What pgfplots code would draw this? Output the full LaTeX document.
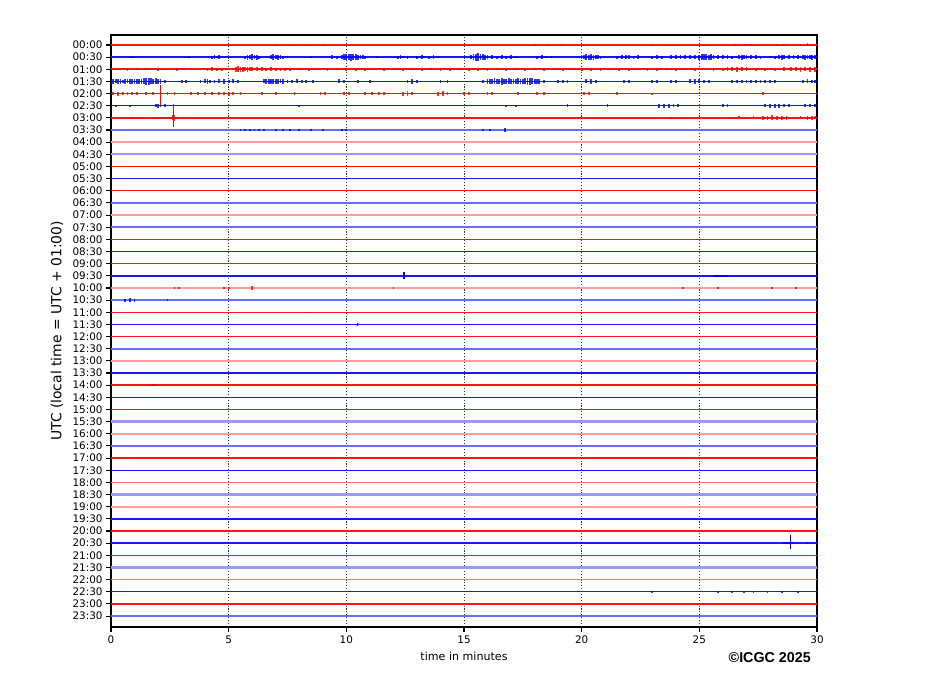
\documentclass[border=0pt]{standalone}
\usepackage{fontspec}
\setmainfont{DejaVu Sans}
\newfontfamily\arialfont{Liberation Sans}
\usepackage{pgfplots}
\usepackage{pgfplotstable}
\pgfplotsset{compat=1.18}

% envelope half-amplitudes (in trace spacings) read off the helicorder
\pgfplotstableread[row sep=\\]{x e \\
7.0 .05 \\ 7.6 .05 \\ 8.3 .06 \\ 9.0 .05 \\ 18.0 .05 \\ 18.6 .06 \\ 19.1 .05 \\ 23.0 .06 \\ 23.6 .07 \\ 24.1 .06 \\
25.3 .07 \\ 25.9 .06 \\ 26.5 .08 \\ 26.9 .1 \\ 27.2 .08 \\ 27.5 .1 \\ 27.9 .09 \\ 28.3 .08 \\ 28.6 .1 \\ 29.0 .09 \\
29.3 .1 \\ 29.6 .12 \\ 29.8 .1 \\
}\tZero
\pgfplotstableread[row sep=\\]{x e \\
0.9 .1 \\ 1.0 .08 \\ 3.3 .07 \\ 4.3 .12 \\ 4.4 .15 \\ 4.5 .1 \\ 4.6 .14 \\ 5.7 .12 \\ 5.8 .2 \\ 5.9 .18 \\
6.0 .22 \\ 6.1 .16 \\ 6.2 .2 \\ 6.3 .12 \\ 6.8 .15 \\ 6.9 .22 \\ 7.0 .18 \\ 7.1 .2 \\ 7.2 .15 \\ 7.3 .12 \\
7.5 .08 \\ 8.5 .1 \\ 9.3 .1 \\ 9.4 .14 \\ 9.5 .1 \\ 9.6 .12 \\ 9.8 .18 \\ 9.9 .22 \\ 10.0 .26 \\ 10.1 .24 \\
10.2 .28 \\ 10.3 .22 \\ 10.4 .25 \\ 10.5 .2 \\ 10.6 .18 \\ 10.7 .15 \\ 10.8 .12 \\ 11.3 .08 \\ 12.2 .12 \\ 12.3 .15 \\
12.4 .1 \\ 12.6 .12 \\ 13.0 .12 \\ 13.2 .15 \\ 13.3 .1 \\ 13.5 .12 \\ 13.7 .14 \\ 13.9 .1 \\ 15.3 .15 \\ 15.4 .22 \\
15.5 .28 \\ 15.6 .3 \\ 15.7 .25 \\ 15.8 .22 \\ 15.9 .2 \\ 16.0 .18 \\ 16.2 .14 \\ 16.4 .12 \\ 16.6 .15 \\ 16.8 .12 \\
17.0 .14 \\ 17.2 .1 \\ 18.1 .12 \\ 18.3 .14 \\ 18.5 .1 \\ 18.7 .1 \\ 20.1 .18 \\ 20.2 .22 \\ 20.3 .2 \\ 20.4 .24 \\
20.5 .2 \\ 20.6 .18 \\ 20.7 .15 \\ 20.8 .12 \\ 21.5 .12 \\ 21.7 .15 \\ 21.9 .14 \\ 22.0 .16 \\ 22.2 .12 \\ 22.4 .14 \\
23.0 .12 \\ 23.2 .16 \\ 23.4 .12 \\ 23.8 .14 \\ 24.0 .18 \\ 24.2 .15 \\ 24.4 .18 \\ 24.6 .14 \\ 24.8 .16 \\ 25.0 .2 \\
25.1 .24 \\ 25.2 .22 \\ 25.3 .26 \\ 25.4 .2 \\ 25.5 .22 \\ 25.6 .18 \\ 25.8 .16 \\ 26.0 .14 \\ 26.2 .16 \\ 26.4 .12 \\
26.7 .15 \\ 26.8 .2 \\ 26.9 .18 \\ 27.0 .16 \\ 27.2 .18 \\ 27.4 .14 \\ 27.6 .12 \\ 28.0 .1 \\ 28.2 .12 \\ 28.4 .16 \\
28.5 .2 \\ 28.6 .18 \\ 28.8 .15 \\ 29.0 .18 \\ 29.2 .14 \\ 29.4 .16 \\ 29.5 .2 \\ 29.6 .18 \\ 29.7 .15 \\ 29.8 .2 \\
29.9 .16 \\
}\tOne
\pgfplotstableread[row sep=\\]{x e \\
0.3 .1 \\ 0.7 .12 \\ 1.1 .1 \\ 1.5 .1 \\ 2.0 .12 \\ 2.4 .1 \\ 2.8 .12 \\ 3.1 .1 \\ 4.1 .12 \\ 4.3 .15 \\
4.5 .14 \\ 4.7 .12 \\ 4.9 .1 \\ 5.3 .2 \\ 5.4 .24 \\ 5.5 .2 \\ 5.6 .22 \\ 5.7 .18 \\ 5.8 .2 \\ 5.9 .16 \\
6.0 .18 \\ 6.2 .15 \\ 6.4 .16 \\ 6.6 .14 \\ 6.8 .15 \\ 7.0 .14 \\ 7.2 .12 \\ 7.4 .14 \\ 7.6 .12 \\ 8.0 .1 \\
8.4 .12 \\ 8.8 .1 \\ 9.2 .12 \\ 9.6 .1 \\ 10.0 .12 \\ 10.4 .14 \\ 10.8 .12 \\ 11.2 .1 \\ 11.6 .12 \\ 12.0 .1 \\
12.4 .12 \\ 12.8 .1 \\ 13.2 .12 \\ 13.6 .1 \\ 14.0 .12 \\ 14.4 .12 \\ 14.8 .1 \\ 15.2 .12 \\ 15.6 .14 \\ 16.0 .12 \\
16.4 .1 \\ 16.8 .12 \\ 17.2 .1 \\ 17.6 .12 \\ 18.0 .1 \\ 18.4 .12 \\ 18.8 .1 \\ 19.2 .12 \\ 19.6 .1 \\ 20.0 .12 \\
20.4 .14 \\ 20.8 .12 \\ 21.2 .1 \\ 21.6 .14 \\ 22.0 .12 \\ 22.4 .1 \\ 22.8 .14 \\ 23.2 .12 \\ 23.6 .1 \\ 24.0 .12 \\
24.4 .1 \\ 24.8 .12 \\ 25.2 .1 \\ 25.6 .12 \\ 26.0 .14 \\ 26.2 .18 \\ 26.4 .16 \\ 26.6 .2 \\ 26.8 .18 \\ 27.0 .15 \\
27.4 .12 \\ 27.8 .12 \\ 28.2 .14 \\ 28.6 .15 \\ 28.9 .16 \\ 29.1 .18 \\ 29.3 .2 \\ 29.5 .18 \\ 29.7 .22 \\ 29.9 .2 \\
}\tTwo
\pgfplotstableread[row sep=\\]{x e \\
0.0 .18 \\ 0.1 .2 \\ 0.2 .16 \\ 0.3 .18 \\ 0.4 .2 \\ 0.5 .15 \\ 0.6 .18 \\ 0.7 .16 \\ 0.8 .2 \\ 0.9 .18 \\
1.0 .2 \\ 1.1 .22 \\ 1.2 .18 \\ 1.3 .2 \\ 1.4 .24 \\ 1.5 .26 \\ 1.6 .28 \\ 1.7 .25 \\ 1.8 .22 \\ 1.9 .24 \\
2.0 .2 \\ 2.1 .18 \\ 2.3 .14 \\ 3.0 .1 \\ 3.2 .12 \\ 3.8 .14 \\ 4.0 .16 \\ 4.1 .18 \\ 4.2 .15 \\ 4.4 .14 \\
4.6 .16 \\ 4.8 .18 \\ 5.0 .14 \\ 5.2 .16 \\ 5.4 .12 \\ 6.5 .16 \\ 6.6 .2 \\ 6.7 .18 \\ 6.8 .22 \\ 6.9 .2 \\
7.0 .18 \\ 7.1 .2 \\ 7.2 .16 \\ 7.3 .18 \\ 7.5 .15 \\ 7.7 .14 \\ 7.9 .16 \\ 8.1 .12 \\ 8.3 .14 \\ 8.6 .1 \\
9.7 .16 \\ 9.9 .14 \\ 10.5 .1 \\ 11.0 .1 \\ 12.6 .15 \\ 12.8 .18 \\ 13.0 .14 \\ 14.0 .12 \\ 14.3 .1 \\ 15.8 .14 \\
16.0 .18 \\ 16.1 .2 \\ 16.2 .22 \\ 16.3 .24 \\ 16.4 .2 \\ 16.5 .22 \\ 16.6 .26 \\ 16.7 .22 \\ 16.8 .2 \\ 16.9 .24 \\
17.0 .22 \\ 17.1 .2 \\ 17.2 .22 \\ 17.3 .24 \\ 17.4 .2 \\ 17.5 .22 \\ 17.6 .24 \\ 17.7 .26 \\ 17.8 .28 \\ 17.9 .24 \\
18.0 .22 \\ 18.1 .2 \\ 18.2 .18 \\ 18.4 .14 \\ 19.0 .14 \\ 19.2 .12 \\ 19.4 .14 \\ 20.2 .16 \\ 20.4 .18 \\ 20.6 .14 \\
21.8 .14 \\ 22.0 .12 \\ 23.0 .15 \\ 23.2 .12 \\ 23.8 .12 \\ 24.0 .14 \\ 24.6 .16 \\ 24.8 .18 \\ 25.0 .16 \\ 25.2 .15 \\
25.4 .12 \\ 26.4 .12 \\ 26.6 .14 \\ 26.8 .12 \\ 27.0 .14 \\ 27.2 .12 \\ 27.4 .14 \\ 27.6 .12 \\ 27.8 .14 \\ 28.0 .12 \\
28.2 .1 \\ 29.4 .14 \\ 29.6 .16 \\ 29.8 .14 \\ 29.9 .12 \\
}\tThree
\pgfplotstableread[row sep=\\]{x e \\
0.1 .14 \\ 0.3 .16 \\ 0.5 .14 \\ 0.7 .15 \\ 0.9 .12 \\ 1.1 .14 \\ 1.5 .1 \\ 1.8 .1 \\ 2.4 .1 \\ 2.7 .14 \\
3.4 .12 \\ 3.7 .14 \\ 4.0 .12 \\ 4.3 .14 \\ 4.6 .12 \\ 4.8 .15 \\ 5.0 .16 \\ 5.2 .12 \\ 5.5 .1 \\ 6.4 .1 \\
7.0 .1 \\ 7.8 .1 \\ 8.9 .12 \\ 9.1 .14 \\ 9.9 .12 \\ 10.1 .14 \\ 10.8 .12 \\ 11.1 .14 \\ 11.4 .12 \\ 11.6 .12 \\
12.4 .16 \\ 12.6 .18 \\ 12.8 .14 \\ 13.9 .16 \\ 14.1 .18 \\ 14.3 .15 \\ 15.0 .12 \\ 15.2 .14 \\ 16.0 .14 \\ 16.2 .12 \\
17.3 .1 \\ 18.1 .14 \\ 18.4 .12 \\ 20.1 .12 \\ 20.3 .1 \\ 21.5 .1 \\ 23.0 .08 \\ 27.7 .12 \\
}\tFour
\pgfplotstableread[row sep=\\]{x e \\
0.2 .06 \\ 0.8 .08 \\ 1.9 .14 \\ 2.0 .16 \\ 2.1 .14 \\ 2.3 .12 \\ 8.0 .06 \\ 16.8 .08 \\ 17.2 .08 \\ 19.4 .12 \\
21.1 .1 \\ 23.3 .16 \\ 23.5 .18 \\ 23.7 .16 \\ 23.9 .14 \\ 24.1 .12 \\ 26.0 .1 \\ 26.2 .1 \\ 27.8 .14 \\ 28.0 .16 \\
28.2 .15 \\ 28.4 .16 \\ 28.6 .14 \\ 28.8 .12 \\ 29.5 .12 \\ 29.7 .14 \\ 29.9 .12 \\
}\tFive
\pgfplotstableread[row sep=\\]{x e \\
0.4 .08 \\ 0.9 .08 \\ 1.3 .08 \\ 2.0 .06 \\ 2.62 .2 \\ 2.68 .22 \\ 9.9 .08 \\ 23.8 .1 \\ 26.4 .1 \\
26.7 .12 \\ 27.0 .1 \\ 27.3 .12 \\ 27.7 .14 \\ 27.9 .18 \\ 28.1 .2 \\ 28.3 .18 \\ 28.5 .16 \\ 28.7 .14 \\ 29.0 .1 \\
29.3 .12 \\ 29.6 .14 \\ 29.8 .16 \\ 29.9 .12 \\
}\tSix
\pgfplotstableread[row sep=\\]{x e \\
5.5 .1 \\ 5.7 .12 \\ 5.9 .1 \\ 6.1 .12 \\ 6.3 .1 \\ 6.5 .12 \\ 7.0 .1 \\ 7.3 .12 \\ 7.6 .1 \\ 8.0 .1 \\
8.5 .08 \\ 9.0 .08 \\ 9.8 .08 \\ 10.0 .1 \\ 15.8 .1 \\ 16.1 .1 \\ 16.75 .14 \\
}\tSeven
\pgfplotstableread[row sep=\\]{x e \\
2.7 .1 \\ 2.9 .12 \\ 4.8 .1 \\ 5.0 .12 \\ 6.0 .14 \\ 12.0 .1 \\ 24.3 .1 \\ 25.8 .1 \\ 28.1 .1 \\ 29.1 .12 \\
}\tTwenty
\pgfplotstableread[row sep=\\]{x e \\
0.6 .12 \\ 0.8 .14 \\ 1.0 .12 \\ 2.4 .06 \\
}\tTwentyOne
\pgfplotstableread[row sep=\\]{x e \\
23.0 .08 \\ 25.8 .07 \\ 26.4 .08 \\ 26.9 .07 \\ 27.3 .08 \\ 27.9 .07 \\ 28.5 .06 \\ 29.2 .06 \\
}\tFortyFive

\pgfplotsset{
  burst/.style={draw=none, mark=none, forget plot,
    error bars/y dir=both, error bars/y explicit, error bars/error mark=none,
    error bars/error bar style={draw=#1, solid, line width=1.8pt, opacity=.8}},
  ar/.style={red!92!white, line width=1.8pt, forget plot},
  ab/.style={blue!92!white, line width=1.8pt, forget plot},
  qr/.style={red!92!white, line width=1.4pt, forget plot},
  qb/.style={blue!90!white, line width=1.4pt, forget plot},
  mr/.style={red!55!white, line width=1.7pt, forget plot},
  mb/.style={blue!58!white, line width=1.6pt, forget plot},
  nr/.style={red!38!white, line width=2.3pt, forget plot},
  nb/.style={blue!40!white, line width=2.3pt, forget plot},
}

\begin{document}
\begin{tikzpicture}[x=1pt,y=1pt]
\path[use as bounding box] (0,0) rectangle (927,696);
\begin{axis}[
  scale only axis, width=706pt, height=592pt,
  at={(111pt,69pt)}, anchor=south west,
  xmin=0, xmax=30, ymin=-47.9, ymax=0.82,
  xtick={0,5,...,30}, ytick={0,-1,...,-47},
  yticklabels={00:00,00:30,01:00,01:30,02:00,02:30,03:00,03:30,04:00,04:30,05:00,05:30,
    06:00,06:30,07:00,07:30,08:00,08:30,09:00,09:30,10:00,10:30,11:00,11:30,
    12:00,12:30,13:00,13:30,14:00,14:30,15:00,15:30,16:00,16:30,17:00,17:30,
    18:00,18:30,19:00,19:30,20:00,20:30,21:00,21:30,22:00,22:30,23:00,23:30},
  tick pos=left, tick align=outside, major tick length=4.9pt,
  every tick/.style={black, line width=1.1pt},
  axis line style={line width=1.1pt},
  xmajorgrids, grid style={black!80, dash pattern=on 1.1pt off 1.8pt, line width=0.8pt},
  ticklabel style={font=\fontsize{10.4}{12}\selectfont},
  /pgf/number format/assume math mode=true,
  xlabel={time in minutes},
  ylabel={UTC (local time = UTC + 01:00)},
  every axis x label/.style={at={(axis description cs:0.5,-0.0574)}, anchor=base,
    font=\fontsize{11.1}{13}\selectfont},
  every axis y label/.style={at={(axis description cs:-0.0765,0.5)}, rotate=90, anchor=center,
    font=\fontsize{13.9}{16}\selectfont},
]
% trace baselines, one per half hour
\addplot[qr] coordinates {(0,0) (30,0)};
\addplot[ab] coordinates {(0,-1) (30,-1)};
\addplot[ar] coordinates {(0,-2) (30,-2)};
\addplot[ab] coordinates {(0,-3) (30,-3)};
\addplot[ar] coordinates {(0,-4) (30,-4)};
\addplot[qb] coordinates {(0,-5) (30,-5)};
\addplot[qr] coordinates {(0,-6) (30,-6)};
\addplot[mb] coordinates {(0,-7) (30,-7)};
\addplot[nr] coordinates {(0,-8) (30,-8)};
\addplot[nb] coordinates {(0,-9) (30,-9)};
\addplot[qr] coordinates {(0,-10) (30,-10)};
\addplot[qb] coordinates {(0,-11) (30,-11)};
\addplot[qr] coordinates {(0,-12) (30,-12)};
\addplot[mb] coordinates {(0,-13) (30,-13)};
\addplot[nr] coordinates {(0,-14) (30,-14)};
\addplot[mb] coordinates {(0,-15) (30,-15)};
\addplot[qr] coordinates {(0,-16) (30,-16)};
\addplot[qb] coordinates {(0,-17) (30,-17)};
\addplot[qr] coordinates {(0,-18) (30,-18)};
\addplot[qb] coordinates {(0,-19) (30,-19)};
\addplot[nr] coordinates {(0,-20) (30,-20)};
\addplot[mb] coordinates {(0,-21) (30,-21)};
\addplot[qr] coordinates {(0,-22) (30,-22)};
\addplot[qb] coordinates {(0,-23) (30,-23)};
\addplot[qr] coordinates {(0,-24) (30,-24)};
\addplot[mb] coordinates {(0,-25) (30,-25)};
\addplot[nr] coordinates {(0,-26) (30,-26)};
\addplot[qb] coordinates {(0,-27) (30,-27)};
\addplot[qr] coordinates {(0,-28) (30,-28)};
\addplot[qb] coordinates {(0,-29) (30,-29)};
\addplot[qr] coordinates {(0,-30) (30,-30)};
\addplot[nb] coordinates {(0,-31) (30,-31)};
\addplot[nr] coordinates {(0,-32) (30,-32)};
\addplot[mb] coordinates {(0,-33) (30,-33)};
\addplot[qr] coordinates {(0,-34) (30,-34)};
\addplot[qb] coordinates {(0,-35) (30,-35)};
\addplot[mr] coordinates {(0,-36) (30,-36)};
\addplot[nb] coordinates {(0,-37) (30,-37)};
\addplot[nr] coordinates {(0,-38) (30,-38)};
\addplot[qb] coordinates {(0,-39) (30,-39)};
\addplot[qr] coordinates {(0,-40) (30,-40)};
\addplot[qb] coordinates {(0,-41) (30,-41)};
\addplot[qr] coordinates {(0,-42) (30,-42)};
\addplot[nb] coordinates {(0,-43) (30,-43)};
\addplot[mr] coordinates {(0,-44) (30,-44)};
\addplot[qb] coordinates {(0,-45) (30,-45)};
\addplot[qr] coordinates {(0,-46) (30,-46)};
\addplot[mb] coordinates {(0,-47) (30,-47)};

% bursts
\addplot[burst=red]  table[x=x, y expr=0,  y error=e] {\tZero};
\addplot[burst=blue] table[x=x, y expr=-1, y error=e] {\tOne};
\addplot[burst=red]  table[x=x, y expr=-2, y error=e] {\tTwo};
\addplot[burst=blue] table[x=x, y expr=-3, y error=e] {\tThree};
\addplot[burst=red]  table[x=x, y expr=-4, y error=e] {\tFour};
\addplot[burst=blue] table[x=x, y expr=-5, y error=e] {\tFive};
\addplot[burst=red]  table[x=x, y expr=-6, y error=e] {\tSix};
\addplot[burst=blue] table[x=x, y expr=-7, y error=e] {\tSeven};
\addplot[burst=red]  table[x=x, y expr=-20, y error=e] {\tTwenty};
\addplot[burst=blue] table[x=x, y expr=-21, y error=e] {\tTwentyOne};
\addplot[burst=blue] table[x=x, y expr=-45, y error=e] {\tFortyFive};

% single events
\addplot[red, line width=1.2pt, forget plot] coordinates {(2.1,-3.3) (2.1,-4.95)};
\addplot[red, line width=1.2pt, forget plot] coordinates {(2.65,-4.9) (2.65,-6.75)};
\addplot[blue, line width=1.2pt, forget plot] coordinates {(12.45,-18.7) (12.45,-19.3)};
\addplot[blue, line width=1.6pt, forget plot] coordinates {(25.6,-19) (26.2,-19)};
\addplot[red, line width=1.4pt, forget plot] coordinates {(8.25,-22) (8.35,-22)};
\addplot[blue, line width=1.4pt, forget plot] coordinates {(10.45,-23.1) (10.5,-22.9)};
\addplot[red, line width=1.6pt, forget plot] coordinates {(1.7,-28) (1.95,-28)};
\addplot[blue, line width=1.2pt, forget plot] coordinates {(28.86,-40.3) (28.86,-41.5)};
\addplot[blue, line width=1.6pt, forget plot] coordinates {(28.55,-41) (29.0,-41)};
\addplot[blue, line width=1.2pt, forget plot] coordinates {(29.6,-40.9) (29.6,-41.1)};

\node[anchor=base west, font=\fontsize{13.9}{16}\selectfont] at (axis description cs:-0.0057,1.0169) {17-11-2025};
\node[anchor=base east, font=\fontsize{13.9}{16}\selectfont] at (axis description cs:1.0057,1.0169)
  {CA.ARES..HNZ - High pass filtered @2Hz - Amplification: 1/1000};
\end{axis}
\node[anchor=base east, inner sep=0pt] at (811,33) {\arialfont\bfseries\fontsize{14.3}{16}\selectfont ©ICGC 2025};
\end{tikzpicture}
\end{document}
